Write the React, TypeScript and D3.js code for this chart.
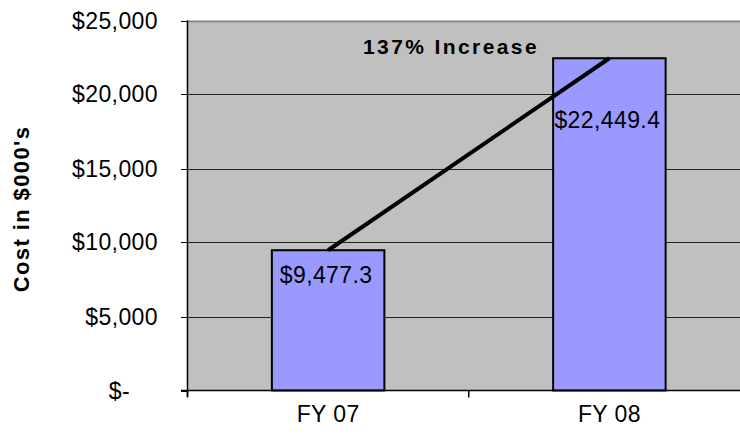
import React from 'react';
import * as d3 from 'd3';

const categories = ['FY 07', 'FY 08'];
const costs = [9477.3, 22449.4];
const yTicks = [0, 5000, 10000, 15000, 20000, 25000];
const annotation = '137% Increase';

const width = 740;
const height = 436;
const margin = { top: 20.5, left: 187.5, bottom: 45.5 };
const plotRight = 750; // plot runs past the right edge of the picture
const font = '"Liberation Sans", Arial, sans-serif';

const App: React.FC = () => {
  const y = d3.scaleLinear().domain([0, 25000]).range([height - margin.bottom, margin.top]);
  const x = d3
    .scaleBand<string>()
    .domain(categories)
    .range([margin.left, plotRight])
    .paddingInner(0.6)
    .paddingOuter(0.3);

  const money = d3.format(',.0f');
  const tickLabel = (v: number) => (v === 0 ? '$-' : `$${money(v)}`);
  const valueLabel = (v: number) => `$${d3.format(',.1f')(v)}`;
  const labelOffset = [33, 70]; // distance from bar top to label baseline

  const y0 = y(0);
  const boundaries = [margin.left, margin.left + x.step() * 1, plotRight];
  const linePts: [number, number][] = costs.map((c, i) => [x(categories[i])! + x.bandwidth() / 2, y(c)]);

  const txt = { fontFamily: font, fontSize: 23, letterSpacing: 0.4, fill: '#000' };

  return (
    <svg width={width} height={height} style={{ position: 'absolute', left: 0, top: 0, background: '#fff' }}>
      <rect x={margin.left} y={margin.top} width={plotRight - margin.left} height={y0 - margin.top} fill="#c0c0c0" />
      {yTicks.map((t) => (
        <g key={t}>
          {t > 0 && (
            <line
              x1={margin.left}
              x2={plotRight}
              y1={Math.round(y(t)) + 0.5}
              y2={Math.round(y(t)) + 0.5}
              stroke={t === 25000 ? '#808080' : '#222'}
              strokeWidth={t === 25000 ? 1.5 : 1}
            />
          )}
          <line x1={181} x2={margin.left} y1={Math.round(y(t)) + 0.5} y2={Math.round(y(t)) + 0.5} stroke="#000" />
          {/* accounting format pads the dash for zero */}
          <text x={t === 0 ? 130 : 158} y={Math.round(y(t)) + 8} textAnchor="end" {...txt}>
            {tickLabel(t)}
          </text>
        </g>
      ))}
      {categories.map((c, i) => (
        <g key={c}>
          <rect
            x={x(c)}
            y={y(costs[i])}
            width={x.bandwidth()}
            height={y0 - y(costs[i])}
            fill="#9999ff"
            stroke="#000"
            strokeWidth={2}
          />
          <text x={x(c)! + x.bandwidth() / 2 - 2} y={y(costs[i]) + labelOffset[i]} textAnchor="middle" {...txt}>
            {valueLabel(costs[i])}
          </text>
          <text x={x(c)! + x.bandwidth() / 2} y={y0 + 31} textAnchor="middle" {...txt}>
            {c}
          </text>
        </g>
      ))}
      <path d={d3.line()(linePts) ?? ''} stroke="#000" strokeWidth={4} fill="none" />
      <line x1={margin.left} x2={margin.left} y1={margin.top} y2={y0 + 6} stroke="#000" strokeWidth={1.5} />
      <line x1={181} x2={plotRight} y1={y0} y2={y0} stroke="#000" strokeWidth={1.5} />
      {boundaries.map((b) => (
        <line key={b} x1={b} x2={b} y1={y0} y2={y0 + 7} stroke="#000" strokeWidth={1.5} />
      ))}
      <text
        x={451}
        y={54}
        textAnchor="middle"
        fontFamily={font}
        fontSize={21}
        fontWeight="bold"
        letterSpacing={2.4}
        fill="#000"
      >
        {annotation}
      </text>
      <text
        transform={`translate(29, 209) rotate(-90)`}
        textAnchor="middle"
        fontFamily={font}
        fontSize={22}
        fontWeight="bold"
        letterSpacing={1.4}
        fill="#000"
      >
        Cost in $000's
      </text>
    </svg>
  );
};

export default App;
